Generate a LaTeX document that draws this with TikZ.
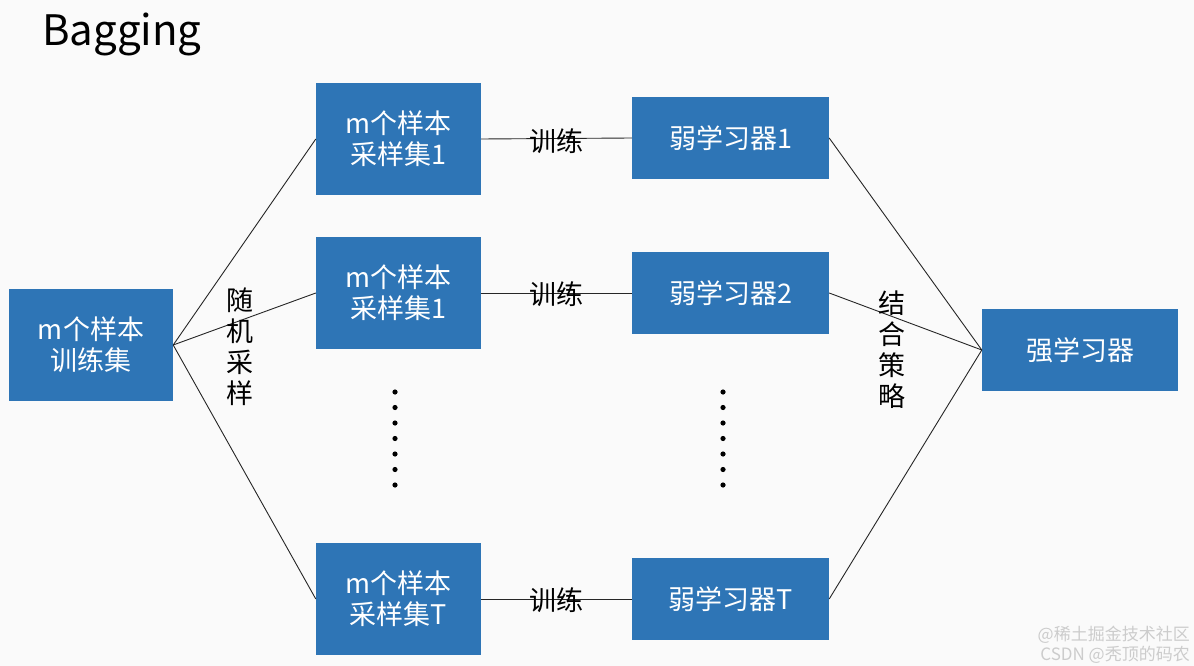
\documentclass[tikz,border=0pt]{standalone}
\usepackage{fontspec}
\setmainfont{Noto Sans CJK SC}
\begin{document}
\begin{tikzpicture}[x=1pt,y=-1pt,
  box/.style={fill=boxblue,text=white,font=\fontsize{27}{31}\selectfont,align=center,inner sep=0pt},
  lbl/.style={font=\fontsize{27}{31}\selectfont,align=center,inner sep=0pt},
  ln/.style={draw=black!85,line width=0.9pt}]
\definecolor{boxblue}{HTML}{2E75B6}
\fill[white!96!gray] (0,0) rectangle (1194,666);
\useasboundingbox (0,0) rectangle (1194,666);
\node[anchor=west,font=\fontsize{42}{48}\selectfont,inner sep=0pt] (title) at (42,34) {Bagging};
\node[box,minimum width=164pt,minimum height=112pt] (t) at (91,345) {m个样本\\训练集};
\foreach \n/\y/\s in {1/139/1,2/293/1,3/599/T}{
  \node[box,minimum width=165pt,minimum height=112pt] (s\n) at (398.5,\y) {m个样本\\采样集\s};
}
\foreach \n/\y/\s in {1/138/1,2/293/2,3/599/T}{
  \node[box,minimum width=197pt,minimum height=82pt] (w\n) at (730.5,\y) {弱学习器\s};
}
\node[box,minimum width=196pt,minimum height=82pt] (g) at (1080,350) {强学习器};
\foreach \n in {1,2,3}{
  \draw[ln] (t.east) -- (s\n.west);
  \draw[ln] (s\n.east) -- (w\n.west);
  \draw[ln] (w\n.east) -- (g.west);
}
\node[lbl] (l1) at (556,141) {训练};
\node[lbl] (l2) at (556,294) {训练};
\node[lbl] (l3) at (556,600) {训练};
\node[lbl] (rs) at (240,347) {随\\机\\采\\样};
\node[lbl] (cs) at (892,350) {结\\合\\策\\略};
\foreach \i in {0,...,6}{
  \fill (395,392+\i*15.5) circle (2.6pt);
  \fill (723,392+\i*15.5) circle (2.6pt);
}
\node[anchor=east,text=white!60!gray,font=\fontsize{17}{20}\selectfont,align=right,inner sep=0pt] (wm) at (1190,645) {@稀土掘金技术社区\\CSDN @秃顶的码农};
\end{tikzpicture}
\end{document}
